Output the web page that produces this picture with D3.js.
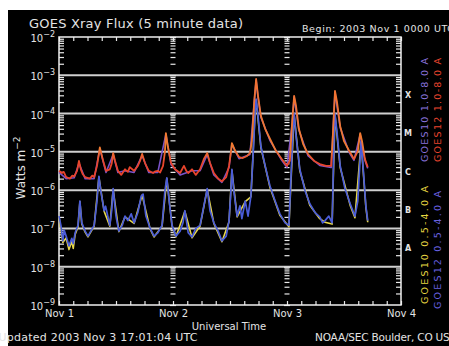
<!DOCTYPE html>
<html><head><meta charset="utf-8">
<script src="https://cdn.jsdelivr.net/npm/d3@7"></script>
<style>
body{margin:0;background:#fff}
svg{display:block}
text{font-family:"DejaVu Sans",sans-serif;fill:#e4e4e4}
</style>
</head><body><svg id="c" width="449" height="346"></svg>
<script>
// ---------- data (hours since 2003 Nov 1 00:00 UT, flux in W m^-2) ----------
const dayLabels = ["Nov 1", "Nov 2", "Nov 3", "Nov 4"];
const dayHours = [0, 24, 48, 72];
const decadeExps = [-2, -3, -4, -5, -6, -7, -8, -9];
const classLabels = ["X", "M", "C", "B", "A"];
const classLowExps = [-4, -5, -6, -7, -8];
const legendTexts = ["GOES10 1.0-8.0 A", "GOES12 1.0-8.0 A", "GOES10 0.5-4.0 A", "GOES12 0.5-4.0 A"];

const g12Long = [[0,3.2e-6],[0.6,2.8e-6],[1.0,3.0e-6],[1.5,2.2e-6],[2.3,2.0e-6],[2.8,2.4e-6],[3.2,2.3e-6],[3.8,3.2e-6],[4.2,5.8e-6],[4.6,3.5e-6],[5.0,2.6e-6],[5.5,2.2e-6],[6.5,2.0e-6],[7.0,2.4e-6],[7.4,2.2e-6],[8.0,4.3e-6],[8.6,1.3e-5],[9.3,5.8e-6],[9.9,3.2e-6],[10.7,3.5e-6],[11.1,5.0e-6],[11.4,9.3e-6],[11.8,5.8e-6],[12.4,3.2e-6],[13.1,2.5e-6],[13.9,3.5e-6],[14.5,3.0e-6],[14.9,4.0e-6],[15.8,3.2e-6],[16.6,4.3e-6],[17.1,6.0e-6],[17.5,8.8e-6],[18.1,5.1e-6],[18.9,3.2e-6],[19.8,2.8e-6],[20.3,3.1e-6],[20.8,3.2e-6],[21.3,2.9e-6],[21.9,4.3e-6],[22.3,1.0e-5],[22.5,3.1e-5],[22.9,1.4e-5],[23.6,5.1e-6],[24.4,3.5e-6],[25.0,3.1e-6],[25.5,2.8e-6],[26.3,4.3e-6],[26.8,3.2e-6],[27.2,2.8e-6],[28.0,3.5e-6],[28.8,2.5e-6],[29.7,3.5e-6],[30.5,6.5e-6],[31.2,9.3e-6],[31.8,5.1e-6],[32.6,2.8e-6],[33.5,2.0e-6],[34.3,1.7e-6],[35.2,2.2e-6],[35.8,4.3e-6],[36.2,1.0e-5],[36.4,1.7e-5],[37.1,1.05e-5],[37.9,7.3e-6],[38.7,6.9e-6],[39.6,7.8e-6],[40.2,9.3e-6],[40.6,1.9e-5],[41.1,2.1e-4],[41.5,8.0e-4],[41.9,2.9e-4],[42.5,8.7e-5],[43.4,4.0e-5],[44.4,2.2e-5],[45.7,1.05e-5],[46.9,6.5e-6],[48.0,4.3e-6],[48.6,5.8e-6],[49.1,6.4e-5],[49.5,2.9e-4],[49.9,1.6e-4],[50.5,4.0e-5],[51.4,1.6e-5],[52.4,8.8e-6],[53.7,5.8e-6],[54.9,4.8e-6],[56.2,4.3e-6],[57.3,4.3e-6],[57.7,3.5e-5],[58.1,3.9e-4],[58.5,2.1e-4],[59.2,4.7e-5],[60.0,1.9e-5],[61.1,1.05e-5],[62.1,6.5e-6],[62.9,1.05e-5],[63.4,3.1e-5],[63.8,1.9e-5],[64.4,6.5e-6],[65.0,4.0e-6]];

const g10Long = [[0,2.9e-6],[1.5,2.0e-6],[3.2,2.1e-6],[4.2,5.0e-6],[5.5,2.0e-6],[7.4,2.0e-6],[8.6,1.2e-5],[9.9,2.9e-6],[11.4,8.5e-6],[12.4,2.9e-6],[13.9,3.2e-6],[15.8,2.9e-6],[17.5,8.0e-6],[18.9,2.9e-6],[20.8,2.9e-6],[22.5,2.9e-5],[23.6,4.6e-6],[25.5,2.5e-6],[28.0,3.2e-6],[29.7,3.2e-6],[31.2,8.5e-6],[32.6,2.5e-6],[34.3,1.6e-6],[35.8,3.9e-6],[36.4,1.6e-5],[37.9,6.6e-6],[40.2,8.5e-6],[41.1,1.9e-4],[41.5,7.4e-4],[41.9,2.7e-4],[42.5,8.0e-5],[44.4,2.0e-5],[46.9,6.0e-6],[48.0,3.9e-6],[49.1,5.8e-5],[49.5,2.7e-4],[50.5,3.7e-5],[52.4,8.0e-6],[54.9,4.4e-6],[57.3,3.9e-6],[58.1,3.6e-4],[59.2,4.3e-5],[61.1,9.6e-6],[62.1,6.0e-6],[63.4,2.8e-5],[64.4,6.0e-6],[65.0,3.7e-6]];

const g12Short = [[0,2.1e-7],[0.4,1.2e-7],[0.8,4.7e-8],[1.1,9.0e-8],[1.5,6.3e-8],[2.1,3.5e-8],[2.7,5.5e-8],[3.0,4.0e-8],[3.4,7.7e-8],[4.0,1.2e-7],[4.4,5.2e-7],[4.8,1.4e-7],[5.5,8.5e-8],[6.1,6.3e-8],[6.7,8.5e-8],[7.4,1.2e-7],[8.0,5.2e-7],[8.4,2.3e-6],[8.8,9.6e-7],[9.5,2.9e-7],[9.8,3.8e-7],[10.1,2.6e-7],[10.7,1.2e-7],[11.1,3.0e-7],[11.4,1.1e-6],[12.0,2.1e-7],[12.6,8.5e-8],[13.3,1.2e-7],[13.9,2.1e-7],[14.5,1.6e-7],[15.2,2.4e-7],[15.8,1.4e-7],[16.6,2.6e-7],[17.3,7.0e-7],[17.7,7.9e-7],[18.3,2.1e-7],[19.2,1.0e-7],[20.0,6.3e-8],[20.8,7.7e-8],[21.7,1.2e-7],[22.3,9.6e-7],[22.7,2.1e-6],[23.2,5.2e-7],[23.8,1.2e-7],[24.6,6.3e-8],[25.5,8.5e-8],[26.1,1.4e-7],[26.5,2.9e-7],[27.2,7.7e-8],[28.0,6.0e-8],[28.8,1.0e-7],[29.7,1.2e-7],[30.5,3.9e-7],[31.2,1.1e-6],[31.8,2.9e-7],[32.6,1.4e-7],[33.5,8.5e-8],[34.3,4.7e-8],[35.2,6.3e-8],[35.8,1.6e-7],[36.2,1.0e-6],[36.4,3.5e-6],[36.8,9.6e-7],[37.5,2.1e-7],[38.1,3.9e-7],[38.5,1.8e-7],[39.2,5.2e-7],[39.8,2.1e-7],[40.4,7.0e-7],[40.8,5.8e-6],[41.3,1.2e-4],[41.5,2.4e-4],[41.9,8.7e-5],[42.5,1.4e-5],[43.4,4.3e-6],[44.4,1.3e-6],[45.5,5.2e-7],[46.5,2.4e-7],[47.6,1.4e-7],[48.4,1.2e-7],[48.8,1.7e-6],[49.3,4.7e-5],[49.5,9.8e-5],[49.9,2.6e-5],[50.7,3.5e-6],[51.8,9.6e-7],[52.8,4.4e-7],[53.9,2.6e-7],[54.9,2.0e-7],[55.5,1.4e-7],[56.0,1.6e-7],[56.8,2.1e-7],[57.5,1.4e-7],[57.9,1.9e-5],[58.1,9.8e-5],[58.5,3.5e-5],[59.2,4.3e-6],[60.2,1.1e-6],[61.3,4.4e-7],[62.3,2.1e-7],[62.9,5.2e-7],[63.6,1.9e-5],[64.0,4.3e-6],[64.6,3.9e-7],[65.0,1.6e-7]];

const g10Short = [[0,2.0e-7],[0.8,4.3e-8],[1.5,5.6e-8],[2.1,2.8e-8],[2.7,4.6e-8],[3.0,3.0e-8],[3.4,7.0e-8],[4.0,1.1e-7],[4.4,5.0e-7],[4.8,1.3e-7],[5.5,8.0e-8],[6.1,6.0e-8],[7.4,1.15e-7],[8.4,2.2e-6],[9.5,2.8e-7],[10.7,1.15e-7],[11.4,1.05e-6],[12.6,8.2e-8],[13.9,2.0e-7],[15.8,1.35e-7],[17.5,7.4e-7],[19.2,9.6e-8],[20.0,6.0e-8],[21.7,1.15e-7],[22.7,2.0e-6],[23.8,1.15e-7],[24.6,6.0e-8],[26.5,2.8e-7],[28.0,5.7e-8],[29.7,1.15e-7],[31.2,1.05e-6],[32.6,1.35e-7],[34.3,4.5e-8],[35.8,1.5e-7],[36.4,3.3e-6],[37.5,2.0e-7],[39.2,5.0e-7],[40.4,6.7e-7],[41.3,1.15e-4],[41.5,2.3e-4],[42.5,1.3e-5],[44.4,1.2e-6],[46.5,2.2e-7],[48.4,1.1e-7],[49.5,9.4e-5],[50.7,3.2e-6],[52.8,4.0e-7],[54.9,1.8e-7],[56.0,1.45e-7],[57.5,1.3e-7],[58.1,9.4e-5],[59.2,3.9e-6],[61.3,4.0e-7],[62.3,1.9e-7],[63.6,1.8e-5],[64.6,3.6e-7],[65.0,1.45e-7]];

// ---------- drawing ----------
const svg = d3.select("#c");
const L = 59, R = 401, T = 37, B = 305;
const x = d3.scaleLinear().domain([0, 72]).range([L, R]);
const y = d3.scaleLog().domain([1e-9, 1e-2]).range([B, T]);

svg.append("rect").attr("x", 8).attr("y", 10).attr("width", 441).attr("height", 336).attr("fill", "#000");

const defs = svg.append("defs");
const grad = defs.append("linearGradient").attr("id", "redg").attr("gradientUnits", "userSpaceOnUse")
  .attr("x1", 0).attr("x2", 0).attr("y1", T).attr("y2", B);
grad.append("stop").attr("offset", "0").attr("stop-color", "#f06a34");
grad.append("stop").attr("offset", String((y(1.2e-5) - T) / (B - T))).attr("stop-color", "#f07a30");
grad.append("stop").attr("offset", String((y(5e-6) - T) / (B - T))).attr("stop-color", "#e8442c");
grad.append("stop").attr("offset", "1").attr("stop-color", "#e43a2c");

// grid lines at decades
const gridVals = decadeExps.slice(1, -1).map(e => Math.pow(10, e));
svg.append("g").selectAll("line").data(gridVals).join("line")
  .attr("x1", L).attr("x2", R).attr("y1", d => y(d)).attr("y2", d => y(d))
  .attr("stroke", "#cfcfcf").attr("stroke-width", 2);

// minor log ticks
const minorVals = [];
for (let e = -9; e < -2; e++) for (let m = 2; m <= 9; m++) minorVals.push(m * Math.pow(10, e));
const hourTicks = d3.range(0, 73, 3);

function styleAxis(g) {
  g.select(".domain").remove();
  g.selectAll("line").attr("stroke", "#e8e8e8").attr("stroke-width", 1.2);
}
svg.append("g").attr("transform", `translate(${L},0)`)
  .call(d3.axisRight(y).tickValues(minorVals).tickSize(5).tickFormat("")).call(styleAxis);
svg.append("g").attr("transform", `translate(${R},0)`)
  .call(d3.axisLeft(y).tickValues(minorVals).tickSize(5).tickFormat("")).call(styleAxis);
[24, 48].forEach(h => {
  svg.append("g").attr("transform", `translate(${x(h) - 2.5},0)`)
    .call(d3.axisRight(y).tickValues(minorVals).tickSize(5).tickFormat("")).call(styleAxis);
  svg.append("g").attr("transform", `translate(${x(h) - 3},0)`)
    .call(d3.axisRight(y).tickValues(gridVals.concat([1e-2, 1e-9])).tickSize(6).tickFormat("")).call(styleAxis);
});
svg.append("g").attr("transform", `translate(0,${T})`)
  .call(d3.axisBottom(x).tickValues(hourTicks).tickSize(4).tickFormat("")).call(styleAxis);
svg.append("g").attr("transform", `translate(0,${B})`)
  .call(d3.axisTop(x).tickValues(hourTicks).tickSize(4).tickFormat("")).call(styleAxis);

// frame
svg.append("rect").attr("x", L).attr("y", T).attr("width", R - L).attr("height", B - T)
  .attr("fill", "none").attr("stroke", "#f0f0f0").attr("stroke-width", 1.5);

// series
const line = d3.line().x(d => x(d[0])).y(d => y(d[1]));
const plot = svg.append("g").attr("fill", "none").attr("stroke-linejoin", "round");
plot.append("path").datum(g10Short).attr("d", line).attr("stroke", "#e8d84a").attr("stroke-width", 1.6);
plot.append("path").datum(g12Short).attr("d", line).attr("stroke", "#4a5cd8").attr("stroke-width", 1.7);
plot.append("path").datum(g10Long).attr("d", line).attr("stroke", "#7a52c8").attr("stroke-width", 1.6);
plot.append("path").datum(g12Long).attr("d", line).attr("stroke", "url(#redg)").attr("stroke-width", 1.8);

// y tick labels
const yl = svg.append("g").selectAll("text").data(decadeExps).join("text")
  .attr("x", 55).attr("y", e => y(Math.pow(10, e)) + 5).attr("text-anchor", "end")
  .attr("font-size", 10);
yl.append("tspan").text("10");
yl.append("tspan").attr("dy", -5).attr("font-size", 8).text(e => "\u2212" + (-e));

// x day labels via axis
const xa = svg.append("g").attr("transform", `translate(0,${B})`)
  .call(d3.axisBottom(x).tickValues(dayHours).tickSize(0).tickPadding(5).tickFormat((d, i) => dayLabels[i]));
xa.select(".domain").remove();
xa.selectAll("text").attr("fill", "#e4e4e4").attr("font-size", 10).attr("font-family", "DejaVu Sans, sans-serif");

// axis titles
svg.append("text").attr("x", 229).attr("y", 330).attr("text-anchor", "middle").attr("font-size", 10).text("Universal Time");
const yt = svg.append("text").attr("transform", "translate(25,168) rotate(-90)").attr("text-anchor", "middle").attr("font-size", 12);
yt.append("tspan").text("Watts m");
yt.append("tspan").attr("dy", -5).attr("font-size", 9).text("\u22122");

// title & info
svg.append("text").attr("x", 29).attr("y", 28).attr("font-size", 13).attr("textLength", 214).text("GOES Xray Flux (5 minute data)");
svg.append("text").attr("x", 302).attr("y", 32).attr("font-size", 9.5).attr("textLength", 152).text("Begin:  2003 Nov 1 0000 UTC");
svg.append("text").attr("x", -1.5).attr("y", 341).attr("font-size", 11).attr("textLength", 199).text("Updated 2003 Nov  3 17:01:04 UTC");
svg.append("text").attr("x", 315).attr("y", 341).attr("font-size", 10.5).attr("textLength", 142).text("NOAA/SEC Boulder, CO USA");

// flare class letters
svg.append("g").selectAll("text").data(classLabels).join("text")
  .attr("x", 408).attr("y", (d, i) => y(Math.pow(10, classLowExps[i] + 0.5)) + 3.5)
  .attr("text-anchor", "middle").attr("font-size", 8).attr("font-weight", "bold").text(d => d);

// rotated legend
const legendCols = ["#8a72dc", "#e8442e", "#e6d640", "#6a62e0"];
const legendPos = [[428, 110, 104], [441, 110, 104], [428, 245, 118], [441, 250, 118]];
svg.append("g").selectAll("text").data(legendTexts).join("text")
  .attr("transform", (d, i) => `translate(${legendPos[i][0]},${legendPos[i][1]}) rotate(-90)`)
  .attr("text-anchor", "middle").attr("font-size", 9.5)
  .attr("textLength", (d, i) => legendPos[i][2])
  .style("fill", (d, i) => legendCols[i]).text(d => d);
</script>
</body></html>
